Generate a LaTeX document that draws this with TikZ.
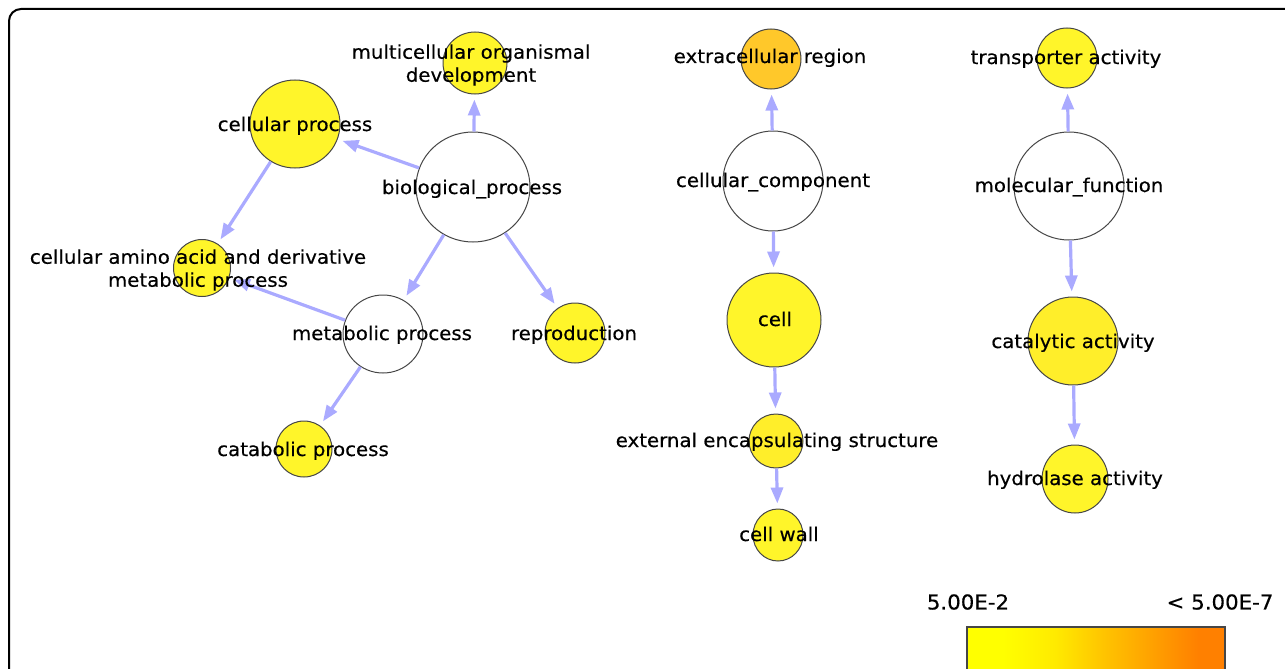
\documentclass[tikz,border=0pt]{standalone}
\usepackage{fontspec}
\setmainfont{DejaVu Sans}[FakeStretch=1.04,FakeBold=0.4]
\usetikzlibrary{shapes.geometric,arrows.meta}
\definecolor{edgecol}{RGB}{170,170,255}
\definecolor{ylw}{RGB}{255,245,42}
\definecolor{ylw2}{RGB}{255,238,42}
\definecolor{orn}{RGB}{255,200,42}
\definecolor{rim}{RGB}{70,70,70}
\pgfdeclarehorizontalshading{legendgrad}{100bp}{rgb(0bp)=(1,1,0); rgb(32bp)=(1,1,0); rgb(42bp)=(1,0.92,0); rgb(52bp)=(1,0.76,0); rgb(65bp)=(1,0.57,0); rgb(70bp)=(1,0.5,0); rgb(100bp)=(1,0.5,0)}
\tikzset{
  gnode/.style={ellipse, draw=rim, line width=1pt, inner sep=0pt, fill=white},
  lbl/.style={font=\fontsize{19}{23}\selectfont, align=center, inner sep=0pt, text=black},
  lbs/.style={lbl, text height=14pt, text depth=4pt},
  lgd/.style={font=\fontsize{20.5}{24}\selectfont, inner sep=0pt, text=black},
  edge/.style={draw=edgecol, line width=3.2pt, -{Triangle[length=16pt,width=12pt]}, shorten >=5pt}
}
\begin{document}
\begin{tikzpicture}[x=1pt,y=-1pt]
\useasboundingbox (0,0) rectangle (1285,669);
% frame
\draw[line width=2pt, rounded corners=12pt] (9,700) |- (1320,9);
% nodes
\node[gnode, fill=ylw, minimum width=64pt, minimum height=62pt] (mod) at (475,63) {};
\node[gnode, fill=ylw, minimum width=90pt, minimum height=88pt] (cp) at (295,124) {};
\node[gnode, minimum width=114pt, minimum height=110pt] (bp) at (473,187) {};
\node[gnode, fill=ylw, minimum width=57pt, minimum height=57pt] (caa) at (202,268) {};
\node[gnode, minimum width=80pt, minimum height=78pt] (mp) at (383,334) {};
\node[gnode, fill=ylw, minimum width=60pt, minimum height=60pt] (rep) at (575,333) {};
\node[gnode, fill=ylw, minimum width=56pt, minimum height=56pt] (cat) at (304,449) {};
\node[gnode, fill=orn, minimum width=60pt, minimum height=60pt] (er) at (771,59) {};
\node[gnode, minimum width=100pt, minimum height=100pt] (cc) at (773,181) {};
\node[gnode, fill=ylw, minimum width=94pt, minimum height=94pt] (cell) at (774,320) {};
\node[gnode, fill=ylw2, minimum width=54pt, minimum height=54pt] (ees) at (776,441) {};
\node[gnode, fill=ylw, minimum width=50pt, minimum height=52pt] (cw) at (778,535) {};
\node[gnode, fill=ylw, minimum width=60pt, minimum height=60pt] (ta) at (1067,58) {};
\node[gnode, minimum width=110pt, minimum height=108pt] (mf) at (1069,186) {};
\node[gnode, fill=ylw2, minimum width=90pt, minimum height=88pt] (ca) at (1073,341) {};
\node[gnode, fill=ylw, minimum width=66pt, minimum height=68pt] (ha) at (1075,479) {};
% edges
\draw[edge] (bp) -- (mod);
\draw[edge] (bp) -- (cp);
\draw[edge] (bp) -- (mp);
\draw[edge] (bp) -- (rep);
\draw[edge] (cp) -- (caa);
\draw[edge] (mp) -- (caa);
\draw[edge] (mp) -- (cat);
\draw[edge] (cc) -- (er);
\draw[edge] (cc) -- (cell);
\draw[edge] (cell) -- (ees);
\draw[edge] (ees) -- (cw);
\draw[edge] (mf) -- (ta);
\draw[edge] (mf) -- (ca);
\draw[edge] (ca) -- (ha);
% labels
\node[lbl] (mod-l) at (471,65) {multicellular organismal\\development};
\node[lbs] (cp-l) at (295,126) {cellular process};
\node[lbs] (bp-l) at (472,189) {biological\_process};
\node[lbl] (caa-l) at (198,270) {cellular amino acid and derivative\\metabolic process};
\node[lbs] (mp-l) at (382,335) {metabolic process};
\node[lbs] (rep-l) at (574,335) {reproduction};
\node[lbs] (cat-l) at (303,451) {catabolic process};
\node[lbs] (er-l) at (770,58) {extracellular region};
\node[lbs] (cc-l) at (773,182) {cellular\_component};
\node[lbs] (cell-l) at (775,321) {cell};
\node[lbs] (ees-l) at (777,442) {external encapsulating structure};
\node[lbs] (cw-l) at (779,536) {cell wall};
\node[lbs] (ta-l) at (1066,59) {transporter activity};
\node[lbs] (mf-l) at (1069,187) {molecular\_function};
\node[lbs] (ca-l) at (1073,343) {catalytic activity};
\node[lbs] (ha-l) at (1075,480) {hydrolase activity};
% legend
\node[lgd] (lg1) at (968,602) {5.00E-2};
\node[lgd] (lg2) at (1220,602) {< 5.00E-7};
\shade[shading=legendgrad, draw=rim, line width=1.5pt] (967,627) rectangle (1225,700);
\end{tikzpicture}
\end{document}
